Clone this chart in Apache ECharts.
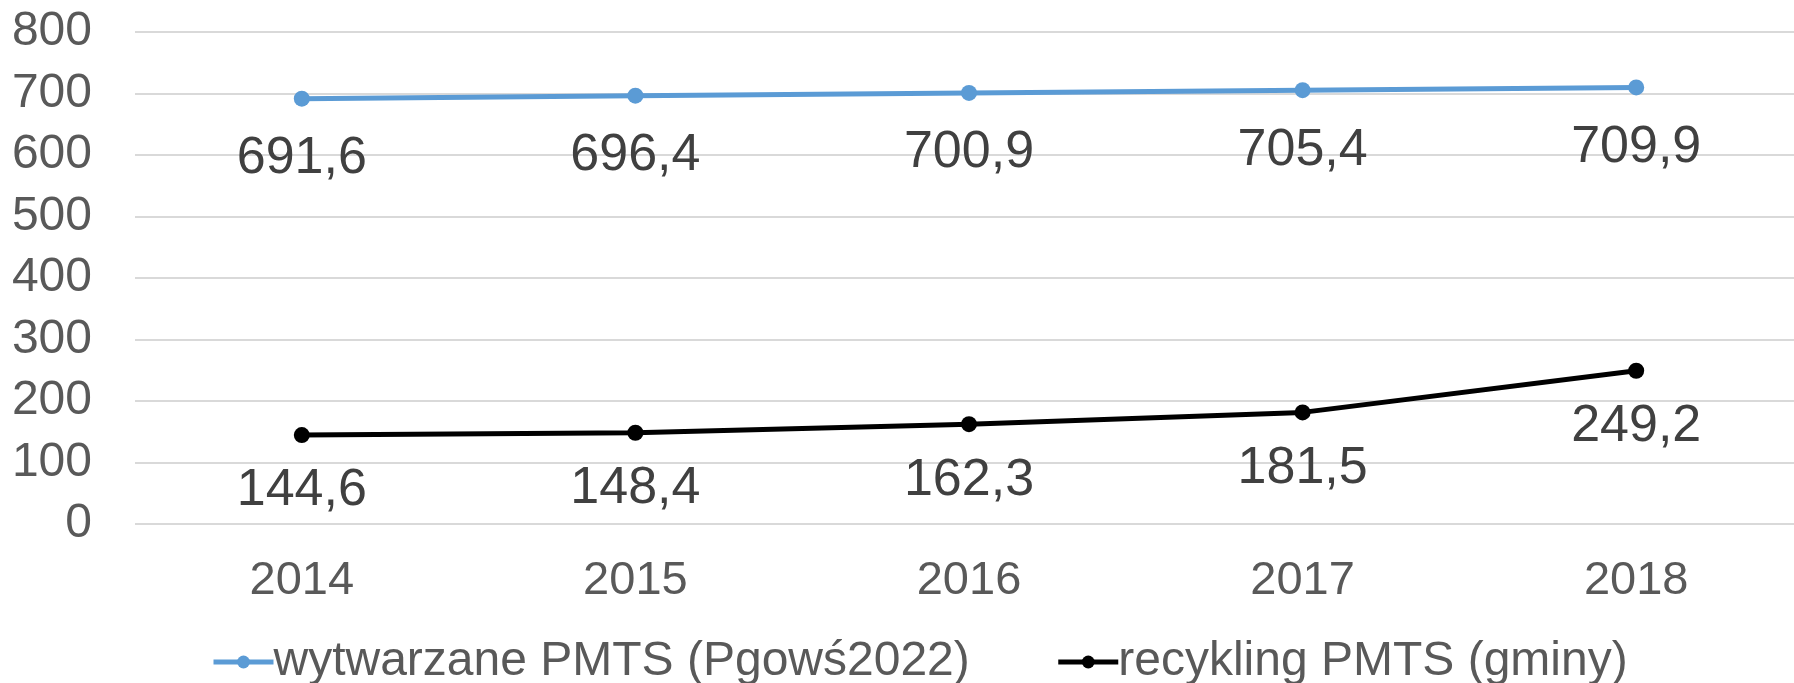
<!DOCTYPE html>
<html>
<head>
<meta charset="utf-8">
<script src="https://cdn.jsdelivr.net/npm/echarts@6/dist/echarts.min.js"></script>
<style>
  html, body { margin: 0; padding: 0; background: #fff; }
  #chart { width: 1794px; height: 683px; }
</style>
</head>
<body>
<div id="chart"></div>
<script>
// dane
const years = ['2014', '2015', '2016', '2017', '2018'];
const wytwarzane = [691.6, 696.4, 700.9, 705.4, 709.9];
const recykling = [144.6, 148.4, 162.3, 181.5, 249.2];
const seriesNames = ['wytwarzane PMTS (Pgowś2022)', 'recykling PMTS (gminy)'];

const font = '"Liberation Sans", Arial, sans-serif';
const fmt = p => String(p.value).replace('.', ',');

const myChart = echarts.init(document.getElementById('chart'));
const option = {
  animation: false,
  textStyle: { fontFamily: font },
  grid: { left: 135, width: 1668, top: 32, bottom: 159, outerBoundsMode: 'none' },
  legend: {
    left: 206,
    top: 633,
    itemWidth: 60,
    itemHeight: 16,
    itemGap: 86,
    lineStyle: { width: 5 },
    textStyle: { fontSize: 48, color: '#595959', fontFamily: font, padding: [0, 0, 0, -5] },
    data: seriesNames
  },
  xAxis: {
    type: 'category',
    data: years,
    boundaryGap: true,
    axisLine: { show: false },
    axisTick: { show: false },
    axisLabel: { fontSize: 47, color: '#595959', margin: 34, fontFamily: font }
  },
  yAxis: {
    type: 'value',
    min: 0,
    max: 800,
    interval: 100,
    axisLine: { show: false },
    axisTick: { show: false },
    axisLabel: { fontSize: 48, color: '#595959', margin: 43, fontFamily: font },
    splitLine: { lineStyle: { color: '#d9d9d9', width: 2 } }
  },
  series: [
    {
      name: seriesNames[0],
      type: 'line',
      data: wytwarzane,
      symbol: 'circle',
      symbolSize: 16,
      lineStyle: { color: '#5b9bd5', width: 5 },
      itemStyle: { color: '#5b9bd5' },
      label: {
        show: true, position: 'bottom', distance: 26,
        fontSize: 52, color: '#404040', fontFamily: font, formatter: fmt
      }
    },
    {
      name: seriesNames[1],
      type: 'line',
      data: recykling,
      symbol: 'circle',
      symbolSize: 16,
      lineStyle: { color: '#000000', width: 5 },
      itemStyle: { color: '#000000' },
      label: {
        show: true, position: 'bottom', distance: 22,
        fontSize: 52, color: '#404040', fontFamily: font, formatter: fmt
      }
    }
  ]
};
myChart.setOption(option);
</script>
</body>
</html>
